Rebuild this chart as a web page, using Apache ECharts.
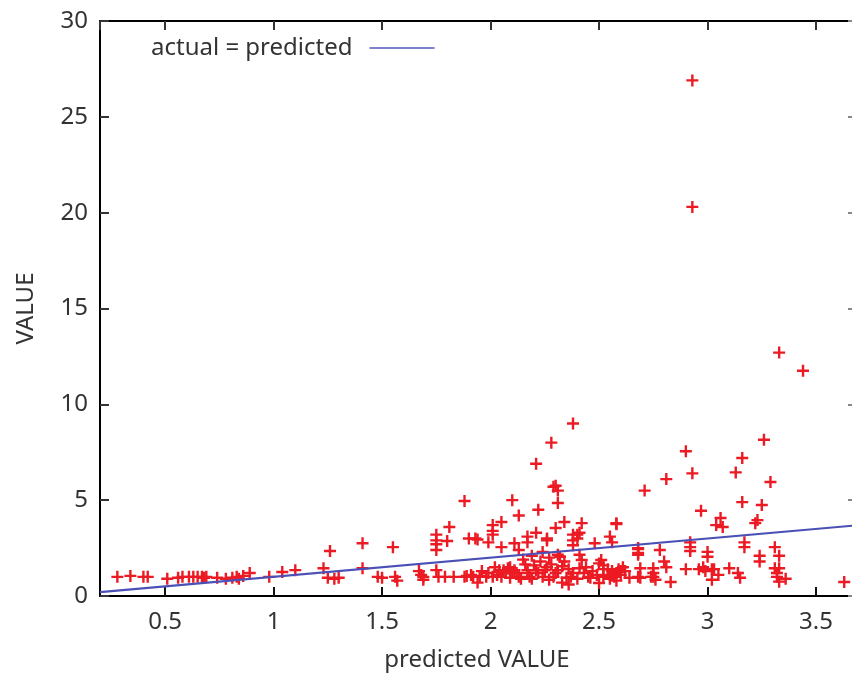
<!DOCTYPE html>
<html>
<head>
<meta charset="utf-8">
<script src="https://cdn.jsdelivr.net/npm/echarts@6/dist/echarts.min.js"></script>
<style>
  html, body { margin: 0; padding: 0; background: #fff; }
  #chart { width: 852px; height: 675px; }
</style>
</head>
<body>
<div id="chart"></div>
<script>
// 预测值 (x)
var predicted = [
  0.28, 0.34, 0.40, 0.42, 0.51, 0.56, 0.58, 0.61, 0.63, 0.65, 0.67, 0.68, 0.69, 0.74, 0.78, 0.81, 0.83, 0.84, 0.86, 0.89,
  0.98, 1.04, 1.10, 1.23, 1.26, 1.25, 1.28, 1.30, 1.41, 1.41, 1.48, 1.50, 1.55, 1.56, 1.57, 1.67, 1.68, 1.69,
  1.88, 2.10, 1.81, 1.75, 1.75, 1.75, 1.75, 1.80, 1.90, 1.93, 1.94, 1.99, 2.01, 2.01, 2.01, 2.05, 2.05, 2.13, 2.22, 2.21,
  2.11, 2.13, 2.17, 2.17, 2.26, 2.31, 2.31, 2.31, 2.21, 2.28, 2.38, 2.29, 2.30,
  2.34, 2.30, 2.42, 2.41, 2.40, 2.40, 2.38, 2.38, 2.38, 2.26, 2.48, 2.58, 2.55, 2.56, 2.68, 2.68, 2.78, 2.80, 2.81, 2.75,
  2.75, 2.75, 2.69, 2.68, 2.69, 2.83, 2.50, 2.51, 2.52, 2.54, 2.56, 2.58, 2.59, 2.60, 2.45, 2.46, 2.38, 2.37, 2.35, 2.41,
  2.42, 2.41, 2.71, 2.81, 2.58, 2.68, 2.68, 2.74, 2.76,
  2.93, 2.93, 3.33, 3.44, 3.26, 2.90, 3.16, 2.93, 3.13, 3.29, 2.97, 3.16, 3.25, 3.06, 3.04, 3.07, 3.23, 3.22, 2.92, 2.92,
  2.92, 3.00, 3.00, 3.17, 3.17, 3.24, 3.24, 3.31, 3.33, 2.90, 2.96, 2.98, 2.99, 3.02, 3.03, 3.02, 3.05, 3.10, 3.14, 3.15,
  3.31, 3.33, 3.32, 3.32, 3.33, 3.36, 3.63,
  1.69, 1.75, 1.76, 1.79, 1.83, 1.88, 1.89, 1.91, 1.92, 1.94, 1.96, 1.98, 1.99, 2.01, 2.02, 2.04, 2.06, 2.07, 2.08, 2.09,
  2.10, 2.11, 2.12, 2.14, 2.16, 2.17, 2.17, 2.18, 2.21, 2.22, 2.24, 2.25, 2.26, 2.28, 2.29, 2.31, 2.05, 2.13, 2.20, 2.23,
  2.27, 2.15, 2.19, 2.24, 2.30, 2.33, 2.34, 2.32, 2.36, 2.03, 1.95, 2.09, 2.19, 2.27, 2.33, 2.36, 2.40, 2.43, 2.44, 2.47,
  2.49, 2.52, 2.55, 2.57, 2.60, 2.62, 2.64, 2.50, 2.52, 2.55, 2.58, 2.61
];
// 实际值 (y)
var actual = [
  1.0, 1.05, 1.0, 1.0, 0.9, 0.95, 1.0, 1.0, 1.0, 1.0, 1.0, 0.95, 1.0, 0.95, 0.9, 0.95, 1.0, 0.9, 1.05, 1.2,
  1.0, 1.25, 1.35, 1.45, 2.35, 0.95, 0.9, 0.95, 2.75, 1.45, 1.0, 0.95, 2.55, 1.0, 0.8, 1.3, 1.1, 0.85,
  4.96, 5.0, 3.6, 3.2, 2.9, 2.7, 2.4, 2.87, 3.0, 3.0, 2.95, 2.8, 3.7, 3.4, 3.2, 3.86, 2.55, 4.2, 4.5, 3.3,
  2.75, 2.4, 3.1, 2.8, 3.0, 5.5, 4.85, 2.15, 6.9, 8.0, 9.0, 5.7, 5.75,
  3.86, 3.55, 3.8, 3.3, 3.2, 3.0, 3.2, 2.9, 2.65, 2.9, 2.75, 3.8, 3.1, 2.8, 2.45, 2.15, 2.4, 1.8, 1.5, 1.45,
  1.2, 1.0, 1.45, 1.0, 0.95, 0.73, 0.68, 1.88, 1.6, 1.4, 1.3, 1.2, 1.4, 1.3, 1.0, 0.95, 1.2, 1.0, 0.95, 2.15,
  1.88, 1.45, 5.5, 6.1, 3.75, 2.5, 2.25, 1.0, 0.85,
  26.9, 20.3, 12.7, 11.75, 8.15, 7.55, 7.2, 6.4, 6.45, 5.95, 4.45, 4.9, 4.75, 4.07, 3.7, 3.6, 3.96, 3.8, 2.8, 2.55,
  2.35, 2.3, 2.05, 2.8, 2.55, 2.1, 1.8, 2.55, 2.1, 1.4, 1.4, 1.5, 1.3, 1.4, 1.4, 0.85, 1.1, 1.45, 1.2, 0.95,
  1.45, 1.45, 1.2, 1.0, 0.75, 0.9, 0.73,
  1.0, 1.35, 1.0, 1.0, 1.0, 1.0, 1.05, 1.1, 1.0, 0.7, 1.3, 1.0, 1.2, 1.0, 1.5, 1.35, 1.35, 1.2, 1.45, 1.5,
  1.2, 1.35, 1.2, 0.9, 1.65, 1.35, 1.2, 1.0, 1.35, 1.2, 1.0, 1.35, 1.5, 1.65, 1.0, 1.35, 1.0, 1.0, 1.6, 1.8,
  2.0, 1.9, 2.1, 2.3, 1.2, 1.55, 1.8, 2.05, 1.4, 1.1, 1.05, 0.95, 0.9, 0.85, 0.7, 0.6, 0.9, 1.2, 1.5, 1.3,
  1.1, 1.0, 0.9, 1.0, 1.1, 1.3, 0.95, 1.7, 1.4, 1.1, 0.8, 1.5
];
// 坐标范围
var xRange = [0.2, 3.675];
var yTicks = [0, 5, 10, 15, 20, 25, 30];

var points = predicted.map(function (x, i) { return [x, actual[i]]; });

var plusPath = 'path://M4,0H6V4H10V6H6V10H4V6H0V4H4Z';
var font = "'Noto Sans', sans-serif";

var myChart = echarts.init(document.getElementById('chart'));
var option = {
  animation: false,
  grid: { left: 100, top: 21, right: -2, bottom: 79, containLabel: false, outerBoundsMode: 'none' },
  legend: {
    left: 146,
    top: 31,
    align: 'right',
    icon: 'rect',
    itemWidth: 65,
    itemHeight: 2,
    data: ['actual = predicted'],
    textStyle: { fontFamily: font, fontSize: 24, color: '#333', padding: [0, 12, 0, 0] }
  },
  xAxis: [
    {
      type: 'value',
      position: 'bottom',
      min: xRange[0],
      max: xRange[1],
      splitNumber: 7,
      name: 'predicted VALUE',
      nameLocation: 'middle',
      nameGap: 52,
      nameTextStyle: { fontFamily: font, fontSize: 24, color: '#333' },
      axisLine: { onZero: false, lineStyle: { color: '#000', width: 2 } },
      // 负长度让刻度朝图内
      axisTick: { show: true, inside: false, length: -9, lineStyle: { color: '#111', width: 2 } },
      axisLabel: { showMinLabel: false, showMaxLabel: false, margin: 14, fontFamily: font, fontSize: 24, color: '#333' },
      splitLine: { show: false }
    },
    {
      type: 'value',
      position: 'top',
      min: xRange[0],
      max: xRange[1],
      splitNumber: 7,
      axisLine: { onZero: false, lineStyle: { color: '#000', width: 2 } },
      axisTick: { show: true, inside: true, length: 9, lineStyle: { color: '#333', width: 2 } },
      axisLabel: { show: false },
      splitLine: { show: false }
    }
  ],
  yAxis: [
    {
      type: 'value',
      position: 'left',
      min: yTicks[0],
      max: yTicks[yTicks.length - 1],
      interval: 5,
      name: 'VALUE',
      nameLocation: 'middle',
      nameGap: 62,
      nameTextStyle: { fontFamily: font, fontSize: 24, color: '#333' },
      axisLine: { show: true, onZero: false, lineStyle: { color: '#000', width: 2 } },
      axisTick: { show: true, inside: false, length: -9, lineStyle: { color: '#333', width: 2 } },
      axisLabel: { margin: 12, fontFamily: font, fontSize: 24, color: '#333' },
      splitLine: { show: false }
    },
    {
      type: 'value',
      position: 'right',
      min: yTicks[0],
      max: yTicks[yTicks.length - 1],
      interval: 5,
      axisLine: { show: true, onZero: false, lineStyle: { color: '#000', width: 2 } },
      axisTick: { show: true, inside: true, length: 6, lineStyle: { color: '#888', width: 2 } },
      axisLabel: { show: false },
      splitLine: { show: false }
    }
  ],
  series: [
    {
      name: 'points',
      type: 'scatter',
      symbol: plusPath,
      symbolSize: 12,
      itemStyle: { color: '#ec1a23', opacity: 1 },
      data: points,
      z: 3
    },
    {
      name: 'actual = predicted',
      type: 'line',
      showSymbol: false,
      symbol: 'none',
      lineStyle: { color: '#4a50b6', width: 2.2 },
      itemStyle: { color: '#7b80d0' },
      data: [[xRange[0], xRange[0]], [xRange[1], xRange[1]]],
      z: 4
    }
  ]
};
myChart.setOption(option);
</script>
</body>
</html>
